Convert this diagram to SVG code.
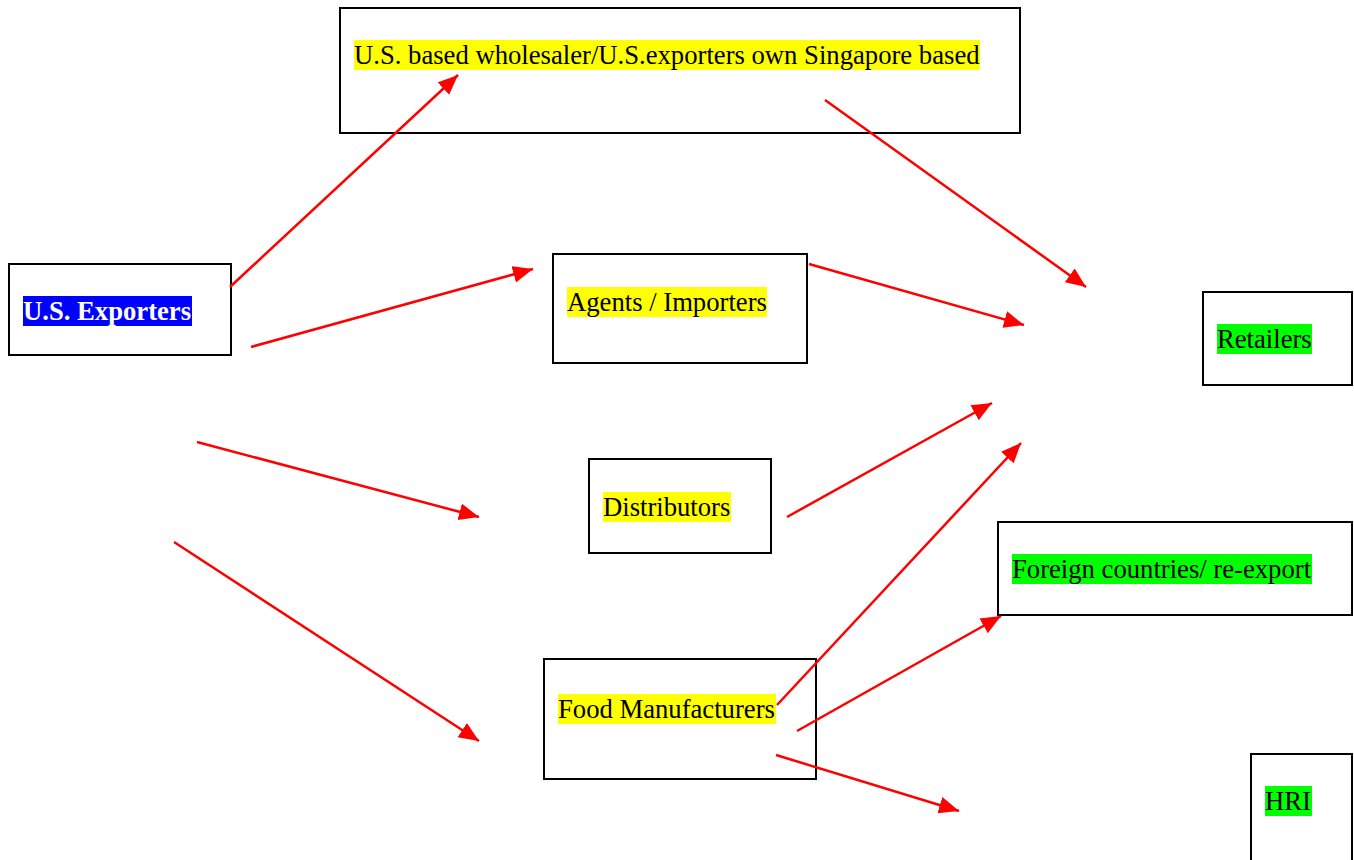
<svg xmlns="http://www.w3.org/2000/svg" width="1354" height="860" viewBox="0 0 1354 860">
<style>
.box{fill:#fff;stroke:#000;stroke-width:2}
.t{font-family:"Liberation Serif","Times New Roman",serif;font-size:26.67px;fill:#000}
.w{fill:#fff;font-weight:bold}
.y{fill:#ffff00}
.g{fill:#00ff00}
.b{fill:#0000ff}
.c{stroke:#ff0000;stroke-width:2.5;fill:none;marker-end:url(#ah)}
</style>
<defs>
<marker id="ah" markerUnits="userSpaceOnUse" markerWidth="22" markerHeight="18" refX="20" refY="8.5" orient="auto" viewBox="0 0 22 18">
<path d="M0,0 L20,8.5 L0,17 z" fill="#ff0000"/>
</marker>
</defs>
<rect width="1354" height="860" fill="#fff"/>
<g id="us-exporters">
<rect class="box" x="9" y="264" width="222" height="91"/>
<rect class="b" x="23" y="296" width="169" height="30"/>
<text class="t w" x="23" y="320">U.S. Exporters</text>
</g>
<g id="us-wholesaler">
<rect class="box" x="340" y="8" width="680" height="125"/>
<rect class="y" x="354" y="40" width="626" height="30"/>
<text class="t" x="354" y="64">U.S. based wholesaler/U.S.exporters own Singapore based</text>
</g>
<g id="agents">
<rect class="box" x="553" y="254" width="254" height="109"/>
<rect class="y" x="567" y="287" width="200" height="30"/>
<text class="t" x="567" y="311">Agents / Importers</text>
</g>
<g id="distributors">
<rect class="box" x="589" y="459" width="182" height="94"/>
<rect class="y" x="603" y="492" width="128" height="30"/>
<text class="t" x="603" y="516">Distributors</text>
</g>
<g id="food-manufacturers">
<rect class="box" x="544" y="659" width="272" height="120"/>
<rect class="y" x="558" y="694" width="218" height="30"/>
<text class="t" x="558" y="718">Food Manufacturers</text>
</g>
<g id="retailers">
<rect class="box" x="1203" y="292" width="149" height="93"/>
<rect class="g" x="1217" y="324" width="95" height="30"/>
<text class="t" x="1217" y="348">Retailers</text>
</g>
<g id="foreign">
<rect class="box" x="998" y="522" width="354" height="93"/>
<rect class="g" x="1012" y="554" width="300" height="30"/>
<text class="t" x="1012" y="578">Foreign countries/ re-export</text>
</g>
<g id="hri">
<rect class="box" x="1251" y="754" width="101" height="120"/>
<rect class="g" x="1265" y="786" width="47" height="30"/>
<text class="t" x="1265" y="810">HRI</text>
</g>
<g id="connectors">
<line class="c" x1="230" y1="287" x2="458" y2="75"/>
<line class="c" x1="251" y1="347" x2="533" y2="269"/>
<line class="c" x1="197" y1="442" x2="479" y2="517"/>
<line class="c" x1="174" y1="542" x2="479" y2="741"/>
<line class="c" x1="825" y1="100" x2="1086" y2="287"/>
<line class="c" x1="809" y1="264" x2="1024" y2="325"/>
<line class="c" x1="787" y1="517" x2="992" y2="403"/>
<line class="c" x1="777" y1="705" x2="1021" y2="443"/>
<line class="c" x1="797" y1="731" x2="1001" y2="616"/>
<line class="c" x1="776" y1="755" x2="959" y2="811"/>
</g>
</svg>
